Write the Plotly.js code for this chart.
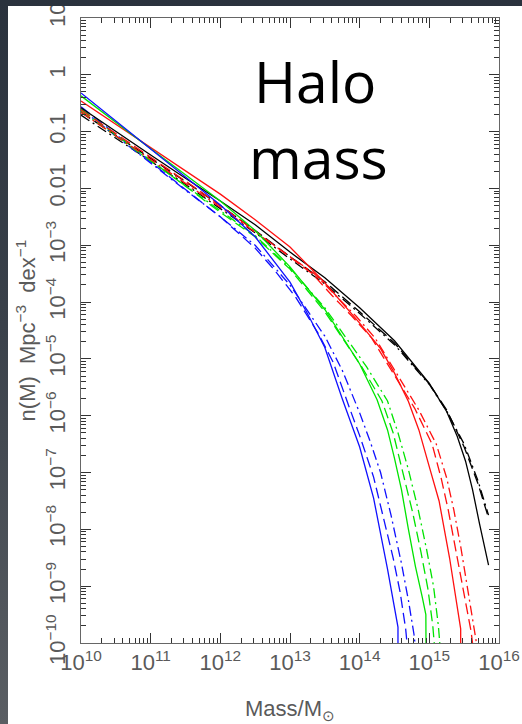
<!DOCTYPE html>
<html>
<head>
<meta charset="utf-8">
<script src="https://cdn.plot.ly/plotly-3.0.1.min.js"></script>
<style>
  html, body { margin:0; padding:0; width:522px; height:724px; overflow:hidden;
    background: linear-gradient(to bottom, #2a323d 0%, #3a414a 45%, #5a5e63 100%); }
  #plot { position:absolute; left:8px; top:6px; width:514px; height:718px; background:#fff; }
</style>
</head>
<body>
<div id="plot"></div>
<script>
// log10(Mass / Msun) and log10(n(M) / Mpc^-3 dex^-1)
var blueSolidLogM  = [10, 10.5, 11, 11.5, 12, 12.5, 13, 13.25, 13.5, 13.75, 14.0, 14.2, 14.4, 14.55, 14.55];
var blueSolidLogN  = [-0.32, -0.81, -1.31, -1.80, -2.29, -2.85, -3.65, -4.2, -4.8, -5.7, -6.55, -7.45, -8.7, -9.72, -12];
var blueDashLogM   = [10, 10.5, 11, 11.5, 12, 12.5, 12.78, 13.08, 13.41, 13.62, 13.85, 14.0, 14.2, 14.33, 14.48, 14.58, 14.66, 14.71];
var blueDashLogN   = [-0.56, -1.05, -1.54, -2.02, -2.5, -3.05, -3.44, -3.91, -4.56, -5.06, -5.85, -6.35, -7.08, -7.75, -8.5, -9.1, -9.75, -10.4];
var blueDotLogM    = [10, 10.5, 11, 11.5, 12, 12.5, 13, 13.5, 13.75, 14.0, 14.15, 14.3, 14.45, 14.6, 14.7, 14.78, 14.83];
var blueDotLogN    = [-0.6, -1.08, -1.56, -2.03, -2.5, -3.0, -3.7, -4.6, -5.2, -5.95, -6.45, -7.0, -7.75, -8.6, -9.25, -9.85, -10.4];

var greenSolidLogM = [10, 10.5, 11, 11.5, 12, 12.5, 13, 13.5, 14, 14.25, 14.4, 14.5, 14.6, 14.7, 14.8, 14.9, 14.95, 14.96];
var greenSolidLogN = [-0.37, -0.84, -1.30, -1.76, -2.22, -2.74, -3.38, -4.13, -5.09, -5.72, -6.25, -6.75, -7.3, -8.0, -8.65, -9.2, -9.5, -12];
var greenDashLogM  = [10, 10.5, 11, 11.5, 12, 12.5, 13, 13.5, 14.03, 14.32, 14.48, 14.62, 14.76, 14.88, 14.98, 15.05, 15.09];
var greenDashLogN  = [-0.6, -1.05, -1.5, -1.96, -2.42, -2.85, -3.42, -4.17, -5.14, -5.74, -6.3, -7.0, -7.7, -8.4, -9.05, -9.7, -10.3];
var greenDotLogM   = [10, 10.5, 11, 11.5, 12, 12.5, 13, 13.5, 14.1, 14.4, 14.55, 14.7, 14.84, 14.96, 15.06, 15.13, 15.17];
var greenDotLogN   = [-0.64, -1.08, -1.52, -1.96, -2.4, -2.83, -3.4, -4.1, -5.14, -5.74, -6.3, -6.95, -7.65, -8.35, -9.0, -9.7, -10.3];

var redSolidLogM   = [10, 10.5, 11, 11.5, 12, 12.5, 13, 13.5, 14, 14.3, 14.5, 14.7, 14.85, 15.0, 15.14, 15.29, 15.41, 15.45, 15.45];
var redSolidLogN   = [-0.46, -0.87, -1.28, -1.69, -2.10, -2.55, -3.03, -3.66, -4.37, -4.82, -5.25, -5.75, -6.25, -6.9, -7.5, -8.5, -9.4, -9.75, -12];
var redDashLogM    = [10, 10.5, 11, 11.5, 12, 12.5, 13, 13.32, 13.6, 13.89, 14.17, 14.5, 14.79, 15.04, 15.17, 15.27, 15.37, 15.46, 15.53, 15.6, 15.65];
var redDashLogN    = [-0.62, -1.03, -1.45, -1.87, -2.3, -2.75, -3.2, -3.5, -3.88, -4.25, -4.63, -5.29, -5.87, -6.5, -7.1, -7.65, -8.3, -8.95, -9.4, -9.8, -10.3];
var redDotLogM     = [10, 10.5, 11, 11.5, 12, 12.5, 13, 13.35, 13.65, 13.95, 14.22, 14.55, 14.85, 15.1, 15.25, 15.35, 15.45, 15.53, 15.6, 15.67, 15.7];
var redDotLogN     = [-0.66, -1.07, -1.49, -1.91, -2.33, -2.77, -3.2, -3.5, -3.88, -4.25, -4.63, -5.29, -5.9, -6.5, -7.1, -7.65, -8.3, -8.9, -9.4, -9.95, -10.3];

var blackSolidLogM = [10, 10.5, 11, 11.5, 12, 12.5, 13, 13.5, 14, 14.5, 15, 15.25, 15.4, 15.52, 15.62, 15.72, 15.85];
var blackSolidLogN = [-0.58, -1.0, -1.41, -1.82, -2.22, -2.64, -3.12, -3.57, -4.1, -4.68, -5.43, -5.93, -6.36, -6.8, -7.3, -7.9, -8.63];
var blackDashLogM  = [10, 10.5, 11, 11.5, 12, 12.5, 13, 13.5, 14, 14.5, 15, 15.25, 15.5, 15.7, 15.85];
var blackDashLogN  = [-0.66, -1.06, -1.47, -1.88, -2.30, -2.74, -3.2, -3.64, -4.17, -4.72, -5.44, -5.90, -6.55, -7.2, -7.8];
var blackDotLogM   = [10, 10.5, 11, 11.5, 12, 12.5, 13, 13.5, 14, 14.5, 15, 15.25, 15.5, 15.7, 15.85];
var blackDotLogN   = [-0.71, -1.11, -1.52, -1.93, -2.35, -2.78, -3.24, -3.68, -4.2, -4.75, -5.45, -5.92, -6.5, -7.15, -7.75];

var xTickExp  = [10, 11, 12, 13, 14, 15, 16];
var xTickText = ['10<sup>10</sup>','10<sup>11</sup>','10<sup>12</sup>','10<sup>13</sup>','10<sup>14</sup>','10<sup>15</sup>','10<sup>16</sup>'];
var yTickExp  = [-10, -9, -8, -7, -6, -5, -4, -3, -2, -1, 0, 1];
var yTickText = ['10<sup>−10</sup>','10<sup>−9</sup>','10<sup>−8</sup>','10<sup>−7</sup>','10<sup>−6</sup>','10<sup>−5</sup>','10<sup>−4</sup>','10<sup>−3</sup>','0.01','0.1','1','10'];

function pw(a){ return a.map(function(v){ return Math.pow(10, v); }); }
function minorVals(exps){
  var out = [];
  for (var i = 0; i < exps.length - 1; i++) for (var k = 2; k <= 9; k++) out.push(k * Math.pow(10, exps[i]));
  return out;
}

var BLUE = '#1010ff', GREEN = '#00e400', RED = '#ff1010', BLACK = '#000000';
var DASH = '11px,5px', DOTDASH = '10px,4px,2px,4px';
var LW = 1.3;

function tr(lm, ln, color, dash){
  return { x: pw(lm), y: pw(ln), type:'scatter', mode:'lines',
           line:{color:color, width:LW, dash:dash}, hoverinfo:'skip', showlegend:false };
}

var data = [
  tr(blackDotLogM, blackDotLogN, BLACK, DOTDASH),
  tr(blackDashLogM, blackDashLogN, BLACK, DASH),
  tr(blueDotLogM, blueDotLogN, BLUE, DOTDASH),
  tr(blueDashLogM, blueDashLogN, BLUE, DASH),
  tr(greenDotLogM, greenDotLogN, GREEN, DOTDASH),
  tr(greenDashLogM, greenDashLogN, GREEN, DASH),
  tr(redDotLogM, redDotLogN, RED, DOTDASH),
  tr(redDashLogM, redDashLogN, RED, DASH),
  tr(blackSolidLogM, blackSolidLogN, BLACK, 'solid'),
  tr(redSolidLogM, redSolidLogN, RED, 'solid'),
  tr(greenSolidLogM, greenSolidLogN, GREEN, 'solid'),
  tr(blueSolidLogM, blueSolidLogN, BLUE, 'solid')
];

var FONT = 'Liberation Sans, Arial, sans-serif';
var tickFont = {family:FONT, size:22, color:'#5a5a5a'};
var NB = '\u00a0';

var layout = {
  width:514, height:718,
  margin:{l:73, r:23, t:12, b:81},
  paper_bgcolor:'#ffffff', plot_bgcolor:'#ffffff',
  showlegend:false,
  xaxis:{
    type:'log', range:[10,16], tickmode:'array', tickvals:pw(xTickExp), ticktext:xTickText,
    ticks:'inside', ticklen:10, tickwidth:1, tickcolor:'#333', ticklabeloverflow:'allow',
    minor:{tickmode:'array', tickvals:minorVals(xTickExp), ticks:'inside', ticklen:5, tickwidth:1, tickcolor:'#333', showgrid:false},
    showline:true, linecolor:'#666', linewidth:1, mirror:'allticks',
    showgrid:false, zeroline:false, tickfont:tickFont, automargin:false,
    title:{text:'Mass/M<sub>⊙</sub>', font:{family:FONT, size:22, color:'#5a5a5a'}, standoff:29}
  },
  yaxis:{
    type:'log', range:[-10,1], tickmode:'array', tickvals:pw(yTickExp), ticktext:yTickText,
    tickangle:-90, ticklabelstandoff:6, ticklabeloverflow:'allow',
    ticks:'inside', ticklen:10, tickwidth:1, tickcolor:'#333',
    minor:{tickmode:'array', tickvals:minorVals(yTickExp), ticks:'inside', ticklen:5, tickwidth:1, tickcolor:'#333', showgrid:false},
    showline:true, linecolor:'#666', linewidth:1, mirror:'allticks',
    showgrid:false, zeroline:false, tickfont:tickFont, automargin:false,
    title:{text:'n(M)'+NB+NB+'Mpc<sup>−3</sup>'+NB+NB+'dex<sup>−1</sup>', font:{family:FONT, size:22, color:'#5a5a5a'}, standoff:0}
  },
  annotations:[
    {text:'Halo', xref:'paper', yref:'paper', x:0.56, y:0.899, xanchor:'center', yanchor:'middle', showarrow:false,
     font:{family:'Open Sans, sans-serif', size:57, color:'#000'}},
    {text:'mass', xref:'paper', yref:'paper', x:0.567, y:0.778, xanchor:'center', yanchor:'middle', showarrow:false,
     font:{family:'Open Sans, sans-serif', size:57, color:'#000'}}
  ]
};

Plotly.newPlot('plot', data, layout, {displayModeBar:false, staticPlot:true});
</script>
</body>
</html>
